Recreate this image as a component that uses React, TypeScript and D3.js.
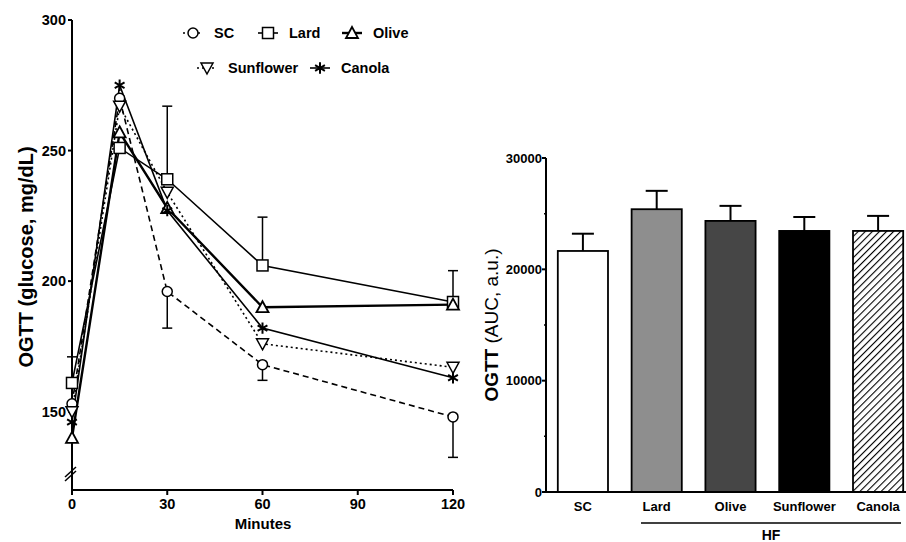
import React from "react";
import * as d3 from "d3";

// OGTT time course (mg/dL)
const minutes = [0, 15, 30, 60, 120];
const scValues = [153, 270, 196, 168, 148];
const lardValues = [161, 251, 239, 206, 192];
const oliveValues = [140, 257, 228, 190, 191];
const sunflowerValues = [150, 267, 234, 176, 167];
const canolaValues = [146, 275, 227, 182, 163];
// one-sided SEM bars (0 = not visible)
const lardSem = [10, 0, 28, 18.5, 12];
const scSem = [0, 0, 14, 6, 15.5];

const xTicks = [0, 30, 60, 90, 120];
const yTicks = [150, 200, 250, 300];

// AUC bars
const groups = ["SC", "Lard", "Olive", "Sunflower", "Canola"];
const aucValues = [21650, 25400, 24350, 23450, 23450];
const aucSem = [1550, 1650, 1350, 1250, 1350];
const aucTicks = [0, 10000, 20000, 30000];
const aucMinor = [5000, 15000, 25000];

const FONT = "'Liberation Sans', Arial, sans-serif";

const seriesStyle = [
  { name: "SC", values: scValues, dash: "6,4", width: 1.6, symbol: "circle" },
  { name: "Lard", values: lardValues, dash: null, width: 1.6, symbol: "square" },
  { name: "Olive", values: oliveValues, dash: null, width: 2.4, symbol: "triangle" },
  { name: "Sunflower", values: sunflowerValues, dash: "2,3", width: 1.6, symbol: "triangleDown" },
  { name: "Canola", values: canolaValues, dash: null, width: 1.6, symbol: "asterisk" },
];

const Marker = ({ type, x, y }: { type: string; x: number; y: number }) => {
  if (type === "circle")
    return <circle cx={x} cy={y} r={5} fill="white" stroke="black" strokeWidth={1.5} />;
  if (type === "square")
    return <rect x={x - 5.5} y={y - 5.5} width={11} height={11} fill="white" stroke="black" strokeWidth={1.5} />;
  if (type === "triangle")
    return <path d={`M${x},${y - 6}L${x + 6},${y + 5}L${x - 6},${y + 5}Z`} fill="white" stroke="black" strokeWidth={1.8} />;
  if (type === "triangleDown")
    return <path d={`M${x},${y + 6}L${x + 6},${y - 5}L${x - 6},${y - 5}Z`} fill="white" stroke="black" strokeWidth={1.5} />;
  const sym = d3.symbol(d3.symbolAsterisk, 90)();
  return <path d={sym || ""} transform={`translate(${x},${y})`} fill="none" stroke="black" strokeWidth={2} />;
};

const LineChart = () => {
  const x = d3.scaleLinear().domain([0, 120]).range([72, 453]);
  const y = d3.scaleLinear().domain([120, 300]).range([490, 20]);
  const line = d3
    .line<number>()
    .x((_, i) => x(minutes[i]))
    .y((d) => y(d));

  const legend = [
    { s: seriesStyle[0], mx: 193, my: 33 },
    { s: seriesStyle[1], mx: 268, my: 33 },
    { s: seriesStyle[2], mx: 352, my: 33 },
    { s: seriesStyle[3], mx: 207, my: 68 },
    { s: seriesStyle[4], mx: 320, my: 68 },
  ];

  return (
    <g fontFamily={FONT} fontWeight="bold">
      {/* axes */}
      <line x1={72} x2={72} y1={y(300)} y2={490} stroke="black" strokeWidth={2} />
      <line x1={72} x2={x(120)} y1={490} y2={490} stroke="black" strokeWidth={2} />
      <line x1={65} x2={76} y1={477} y2={467} stroke="black" strokeWidth={1.5} />
      <line x1={65} x2={76} y1={481} y2={471} stroke="black" strokeWidth={1.5} />
      {yTicks.map((t) => (
        <g key={t}>
          <line x1={68} x2={72} y1={y(t)} y2={y(t)} stroke="black" strokeWidth={2} />
          <text x={66} y={y(t)} dy="0.35em" textAnchor="end" fontSize={14.5}>
            {t}
          </text>
        </g>
      ))}
      {xTicks.map((t) => (
        <g key={t}>
          <line x1={x(t)} x2={x(t)} y1={490} y2={495} stroke="black" strokeWidth={2} />
          <text x={x(t)} y={509} textAnchor="middle" fontSize={14.5}>
            {t}
          </text>
        </g>
      ))}
      <text x={263} y={529} textAnchor="middle" fontSize={15}>
        Minutes
      </text>
      <text transform="translate(33,257) rotate(-90)" textAnchor="middle" fontSize={20}>
        OGTT (glucose, mg/dL)
      </text>

      {/* error bars */}
      {minutes.map((m, i) =>
        lardSem[i] > 0 ? (
          <g key={"l" + m} stroke="black" strokeWidth={1.5}>
            <line x1={x(m)} x2={x(m)} y1={y(lardValues[i])} y2={y(lardValues[i] + lardSem[i])} />
            <line x1={x(m) - 5} x2={x(m) + 5} y1={y(lardValues[i] + lardSem[i])} y2={y(lardValues[i] + lardSem[i])} />
          </g>
        ) : null
      )}
      {minutes.map((m, i) =>
        scSem[i] > 0 ? (
          <g key={"s" + m} stroke="black" strokeWidth={1.5}>
            <line x1={x(m)} x2={x(m)} y1={y(scValues[i])} y2={y(scValues[i] - scSem[i])} />
            <line x1={x(m) - 5} x2={x(m) + 5} y1={y(scValues[i] - scSem[i])} y2={y(scValues[i] - scSem[i])} />
          </g>
        ) : null
      )}

      {/* lines */}
      {seriesStyle.map((s) => (
        <path
          key={s.name}
          d={line(s.values) || ""}
          fill="none"
          stroke="black"
          strokeWidth={s.width}
          strokeDasharray={s.dash || undefined}
        />
      ))}
      {seriesStyle.map((s) =>
        s.values.map((v, i) => <Marker key={s.name + i} type={s.symbol} x={x(minutes[i])} y={y(v)} />)
      )}

      {/* legend */}
      {legend.map(({ s, mx, my }) => (
        <g key={s.name}>
          <line
            x1={mx - 10}
            x2={mx + 10}
            y1={my}
            y2={my}
            stroke="black"
            strokeWidth={s.width}
            strokeDasharray={s.dash ? "2,3" : undefined}
          />
          <Marker type={s.symbol} x={mx} y={my} />
          <text x={mx + 21} y={my} dy="0.36em" fontSize={14.5}>
            {s.name}
          </text>
        </g>
      ))}
    </g>
  );
};

const BarChart = () => {
  const x = d3.scaleBand().domain(groups).range([546, 915]).paddingInner(0.32).paddingOuter(0.16);
  const y = d3.scaleLinear().domain([0, 30000]).range([492, 158]);
  const fills = ["white", "#8e8e8e", "#464646", "black", "url(#hatch)"];
  const bw = x.bandwidth();

  return (
    <g fontFamily={FONT} fontWeight="bold">
      <defs>
        <pattern id="hatch" width={5} height={5} patternUnits="userSpaceOnUse" patternTransform="rotate(45)">
          <rect width={5} height={5} fill="white" />
          <line x1={0} x2={0} y1={0} y2={5} stroke="black" strokeWidth={2.2} />
        </pattern>
      </defs>
      {groups.map((g, i) => {
        const cx = (x(g) as number) + bw / 2;
        return (
          <g key={g}>
            <line x1={cx} x2={cx} y1={y(aucValues[i])} y2={y(aucValues[i] + aucSem[i])} stroke="black" strokeWidth={2} />
            <line
              x1={cx - 11}
              x2={cx + 11}
              y1={y(aucValues[i] + aucSem[i])}
              y2={y(aucValues[i] + aucSem[i])}
              stroke="black"
              strokeWidth={2}
            />
            <rect
              x={x(g)}
              y={y(aucValues[i])}
              width={bw}
              height={y(0) - y(aucValues[i])}
              fill={fills[i]}
              stroke="black"
              strokeWidth={1.8}
            />
            <text x={cx} y={511} textAnchor="middle" fontSize={13}>
              {g}
            </text>
          </g>
        );
      })}
      <line x1={546} x2={546} y1={y(30000)} y2={y(0)} stroke="black" strokeWidth={2} />
      <line x1={546} x2={906} y1={y(0)} y2={y(0)} stroke="black" strokeWidth={2} />
      {aucTicks.map((t) => (
        <g key={t}>
          <line x1={542} x2={546} y1={y(t)} y2={y(t)} stroke="black" strokeWidth={2} />
          <text x={542} y={y(t)} dy="0.35em" textAnchor="end" fontSize={13}>
            {t}
          </text>
        </g>
      ))}
      {aucMinor.map((t) => (
        <line key={t} x1={544} x2={546} y1={y(t)} y2={y(t)} stroke="black" strokeWidth={1.5} />
      ))}
      <line x1={641} x2={901} y1={523} y2={523} stroke="black" strokeWidth={1.5} />
      <text x={771} y={540} textAnchor="middle" fontSize={14}>
        HF
      </text>
      <text transform="translate(498,325) rotate(-90)" textAnchor="middle" fontSize={19}>
        <tspan>OGTT </tspan>
        <tspan fontWeight="normal">(AUC, a.u.)</tspan>
      </text>
    </g>
  );
};

export default function App() {
  return (
    <div style={{ position: "fixed", left: 0, top: 0 }}>
      <svg width={906} height={542} style={{ display: "block", background: "white" }}>
        <LineChart />
        <BarChart />
      </svg>
    </div>
  );
}
